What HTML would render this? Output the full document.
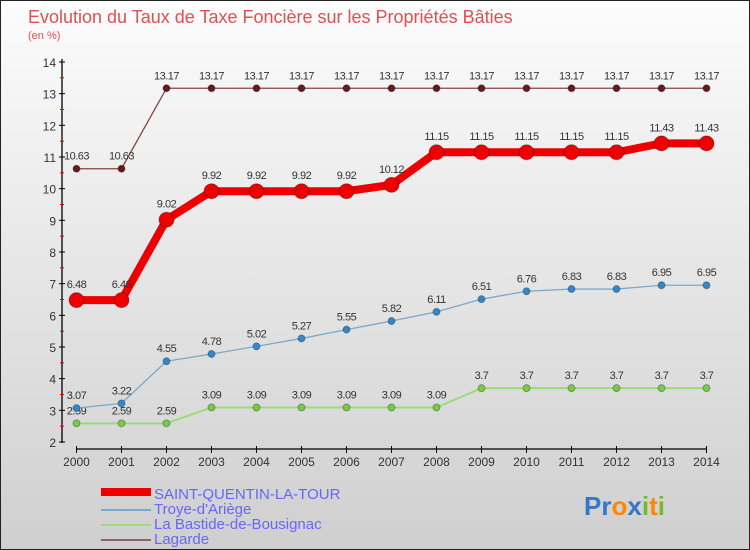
<!DOCTYPE html>
<html><head><meta charset="utf-8"><style>
body{margin:0;}
#c{width:750px;height:550px;position:relative;overflow:hidden;background:linear-gradient(#fcfcfc,#cfcfcf);border:1px solid #222;box-sizing:border-box;font-family:"Liberation Sans",sans-serif;}
</style></head><body>
<div id="c">
<svg id="s" width="750" height="550" style="position:absolute;left:0;top:0">
<text x="27" y="22" font-size="18" fill="#e05050">Evolution du Taux de Taxe Foncière sur les Propriétés Bâties</text>
<text x="27" y="38" font-size="11" fill="#e05050">(en %)</text>
<g id="axes"></g><g id="series"></g>
<g font-size="15" fill="#6666ff">
<rect x="100" y="487" width="50" height="8" fill="#ee0000"/>
<text x="153" y="498">SAINT-QUENTIN-LA-TOUR</text>
<rect x="100" y="508" width="50" height="2" fill="#77aacc"/>
<text x="153" y="513">Troye-d'Ariège</text>
<rect x="100" y="523" width="50" height="2" fill="#99dd77"/>
<text x="153" y="528">La Bastide-de-Bousignac</text>
<rect x="100" y="538" width="50" height="2" fill="#886666"/>
<text x="153" y="543">Lagarde</text>
</g>
<text x="583" y="514" font-size="26" font-weight="bold"><tspan fill="#3377cc">Pr</tspan><tspan fill="#ff8800">o</tspan><tspan fill="#3377cc">x</tspan><tspan fill="#77bb22">i</tspan><tspan fill="#ff8800">t</tspan><tspan fill="#77bb22">i</tspan></text>
</svg>
</div>
<script>
const years=[2000,2001,2002,2003,2004,2005,2006,2007,2008,2009,2010,2011,2012,2013,2014];
const saintQuentin=[6.48,6.48,9.02,9.92,9.92,9.92,9.92,10.12,11.15,11.15,11.15,11.15,11.15,11.43,11.43];
const troye=[3.07,3.22,4.55,4.78,5.02,5.27,5.55,5.82,6.11,6.51,6.76,6.83,6.83,6.95,6.95];
const bastide=[2.59,2.59,2.59,3.09,3.09,3.09,3.09,3.09,3.09,3.7,3.7,3.7,3.7,3.7,3.7];
const lagarde=[10.63,10.63,13.17,13.17,13.17,13.17,13.17,13.17,13.17,13.17,13.17,13.17,13.17,13.17,13.17];
const yTicks=[2,3,4,5,6,7,8,9,10,11,12,13,14];
const NS='http://www.w3.org/2000/svg';
function X(i){return 75.5+i*45;}
function Y(v){return 441-(v-2)*31.667;}
function mk(t,a,p){const e=document.createElementNS(NS,t);for(const k in a)e.setAttribute(k,a[k]);p.appendChild(e);return e;}
const ax=document.getElementById('axes');
let l=mk('line',{x1:61,y1:58,x2:61,y2:442,stroke:'#000','stroke-width':1.3},ax);


yTicks.forEach(v=>{
 mk('line',{x1:58,x2:64,y1:Y(v),y2:Y(v),stroke:'#000'},ax);
 if(v<14)mk('line',{x1:59,x2:63,y1:Y(v+0.5),y2:Y(v+0.5),stroke:'#e00'},ax);
 const t=mk('text',{x:55,y:Y(v)+5,'font-size':12,'text-anchor':'end',fill:'#333'},ax);
 t.textContent=v;
 
 
});
l=mk('line',{x1:75,y1:448,x2:706,y2:448,stroke:'#000','stroke-width':1.3},ax);


years.forEach((y,i)=>{
 mk('line',{x1:X(i),x2:X(i),y1:445,y2:452,stroke:'#000'},ax);
 const t=mk('text',{x:X(i),y:465,'font-size':12,'text-anchor':'middle',fill:'#333'},ax);
 t.textContent=y;
 
 
});
const sg=document.getElementById('series');
function draw(vals,name,color,w,r,dot,lblDy){
 const g=mk('g',{},sg);
 
 
 const pl=mk('polyline',{points:vals.map((v,i)=>X(i)+','+Y(v)).join(' '),fill:'none',stroke:color,'stroke-width':w,'stroke-linejoin':'round'},g);
 
 
 vals.forEach((v,i)=>{
  const c=mk('circle',{cx:X(i),cy:Y(v),r:r,fill:dot,stroke:'rgba(0,0,0,0.3)','stroke-width':1},g);
  
  
  const t=mk('text',{x:X(i),y:Y(v)+lblDy,'font-size':11,'text-anchor':'middle',fill:'#333','letter-spacing':'-0.5'},g);
  t.textContent=v;
  
  
 });
}
draw(lagarde,'lagarde','#884444',1.3,3.5,'#661a1a',-9);
draw(bastide,'bastide','#99dd77',2,3.5,'#77cc44',-9);
draw(troye,'troye','#77aacc',1.3,3.5,'#3388cc',-9);
draw(saintQuentin,'saint-quentin','#ee0000',8,7.5,'#ee0000',-12);
</script>
</body></html>
